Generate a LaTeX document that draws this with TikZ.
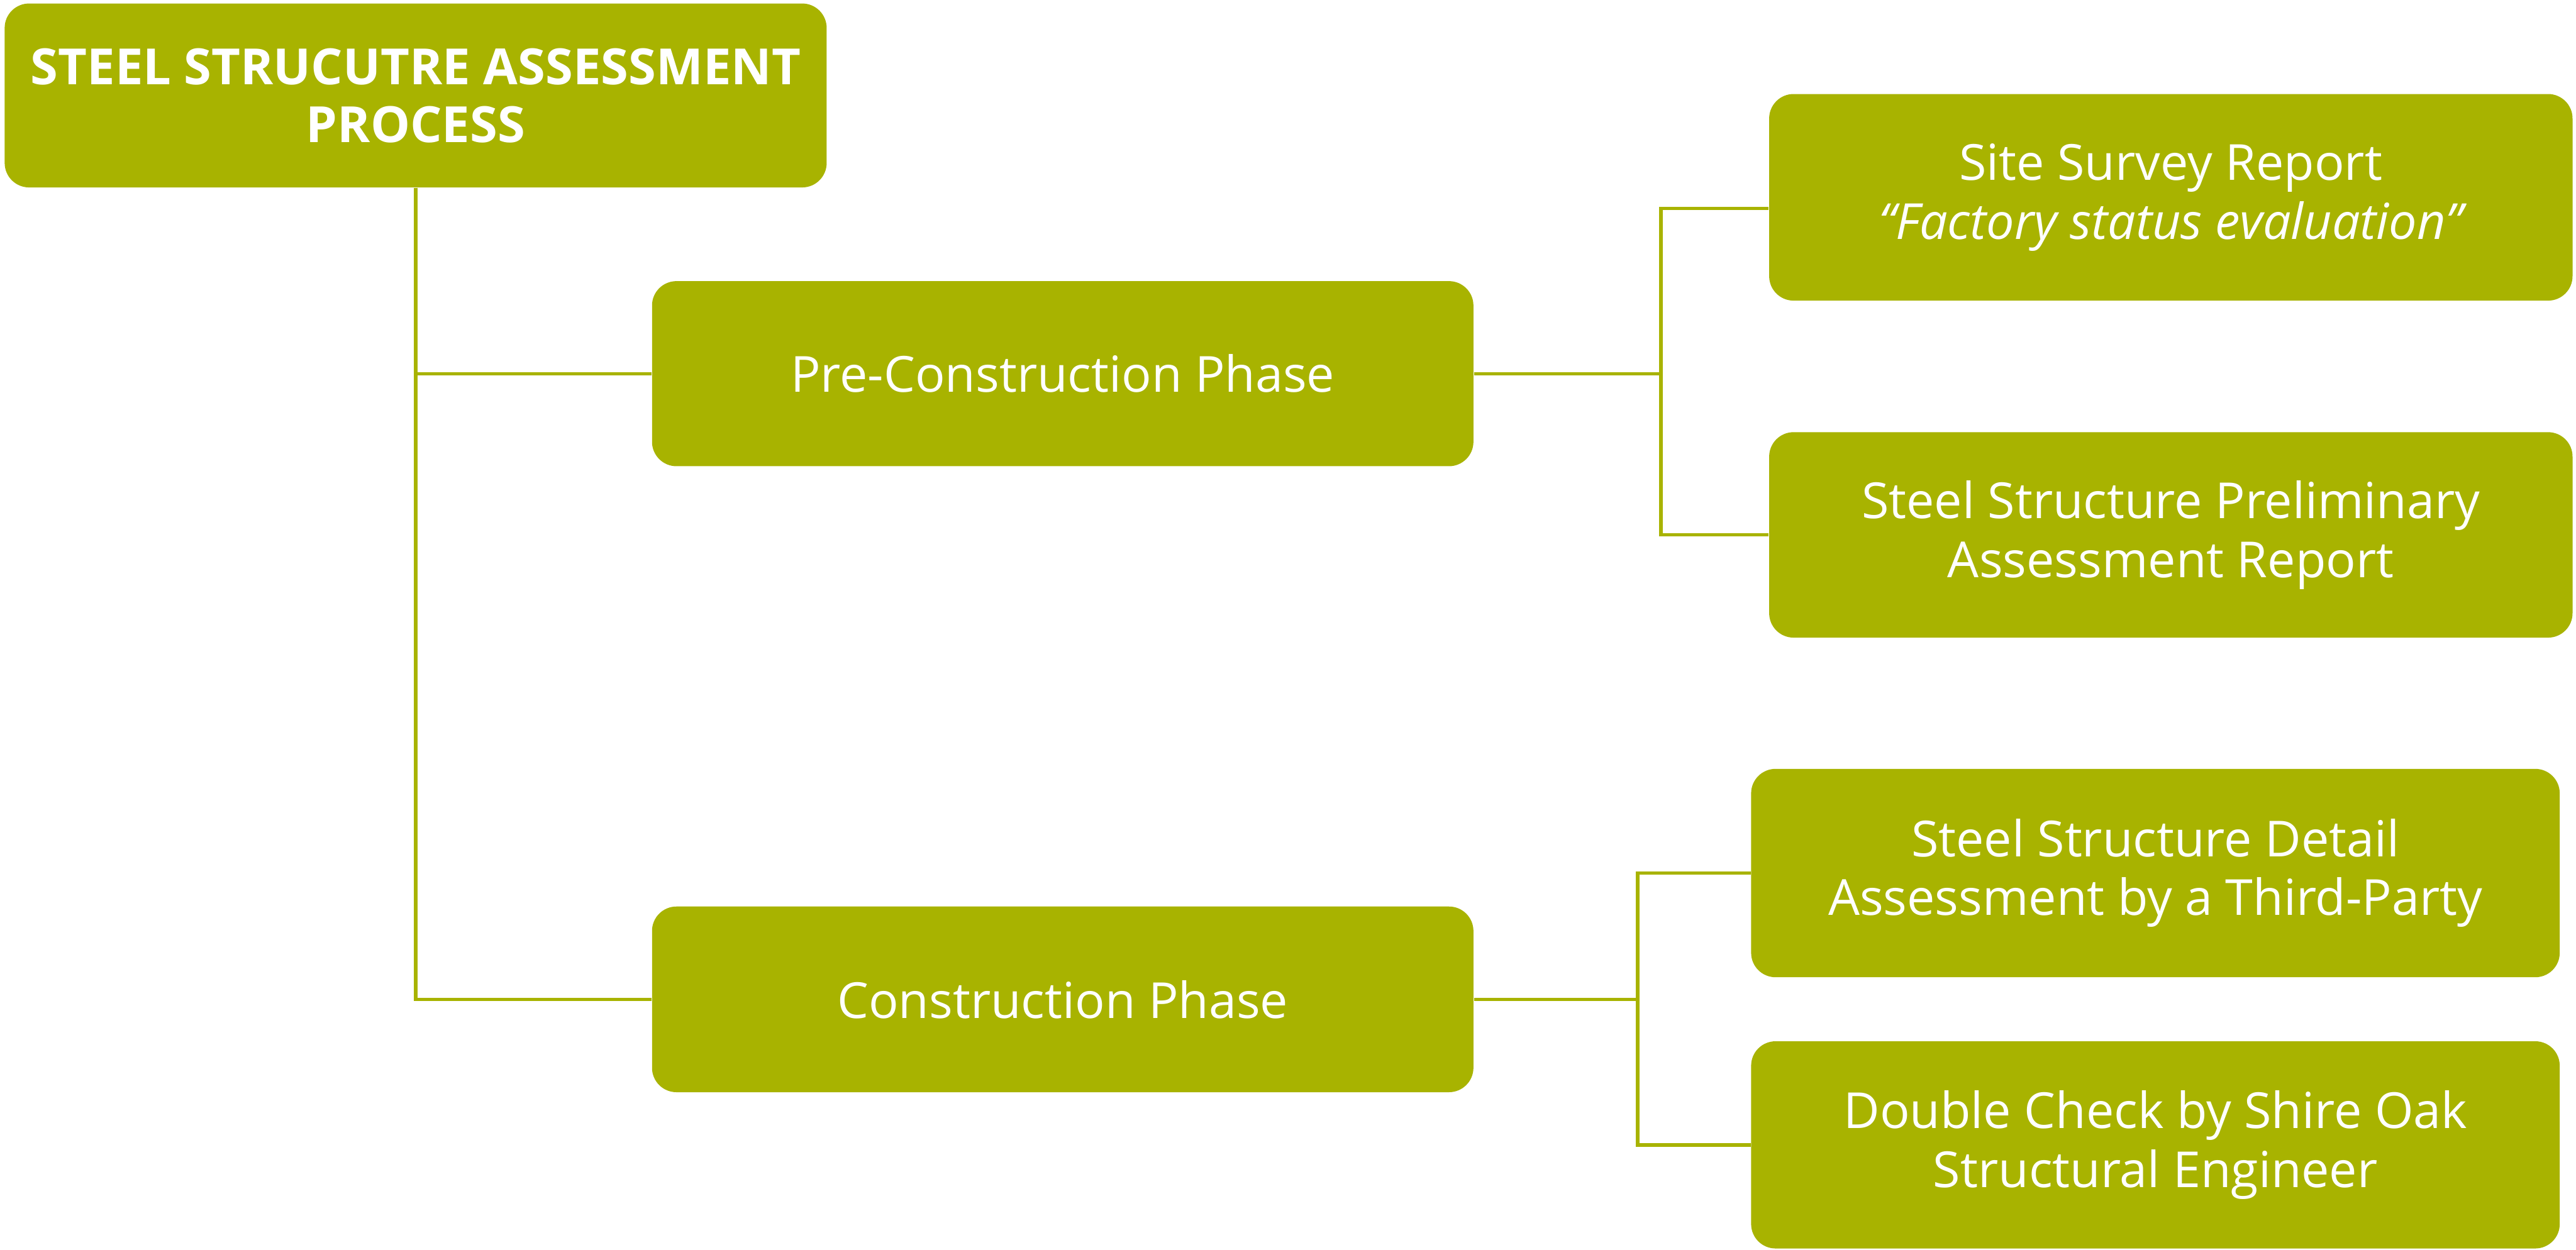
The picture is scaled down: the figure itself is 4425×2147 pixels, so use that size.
\documentclass[tikz,border=0pt]{standalone}
\usepackage{fontspec}
\setmainfont{Open Sans}
\definecolor{olive}{RGB}{168,179,0}
\begin{document}
\begin{tikzpicture}[x=0.1mm,y=-0.1mm,
  box/.style={rectangle, rounded corners=4.2mm, fill=olive, draw=none,
    text=white, align=center, inner sep=0pt,
    font=\fontsize{24.3}{28.8}\selectfont},
  titlebox/.style={box, font=\fontsize{24.4}{28.3}\selectfont\bfseries},
  link/.style={draw=olive, line width=1.7pt}]
\useasboundingbox (0,0) rectangle (4425,2147);

% boxes
\node[titlebox, minimum width=141.2mm, minimum height=31.6mm] (title) at (714,164)
  {STEEL STRUCUTRE ASSESSMENT\\PROCESS};
\node[box, minimum width=141.1mm, minimum height=31.8mm] (pre) at (1825.5,642)
  {Pre-Construction Phase};
\node[box, minimum width=141.1mm, minimum height=31.9mm] (cons) at (1825.5,1717)
  {Construction Phase};
\node[box, minimum width=138mm, minimum height=35.5mm] (site) at (3729,339)
  {Site Survey Report\\\itshape “Factory status evaluation”};
\node[box, minimum width=138mm, minimum height=35.3mm] (prelim) at (3729,919)
  {Steel Structure Preliminary\\Assessment Report};
\node[box, minimum width=138.9mm, minimum height=35.8mm] (detail) at (3702.5,1500)
  {Steel Structure Detail\\Assessment by a Third-Party};
\node[box, minimum width=138.9mm, minimum height=35.6mm] (double) at (3702.5,1967)
  {Double Check by Shire Oak\\Structural Engineer};

% bracket joints
\coordinate (preJ) at (2853,642);
\coordinate (siteIn) at (site.west |- 0,358);
\coordinate (consJ) at (2813,1717);

% trunk from the title to both phases
\draw[link] (title.south) |- (pre.west);
\draw[link] (title.south) |- (cons.west);

% pre-construction bracket
\draw[link] (pre.east) -- (preJ);
\draw[link] (preJ) |- (siteIn);
\draw[link] (preJ) |- (prelim.west);

% construction bracket
\draw[link] (cons.east) -- (consJ);
\draw[link] (consJ) |- (detail.west);
\draw[link] (consJ) |- (double.west);
\end{tikzpicture}
\end{document}
